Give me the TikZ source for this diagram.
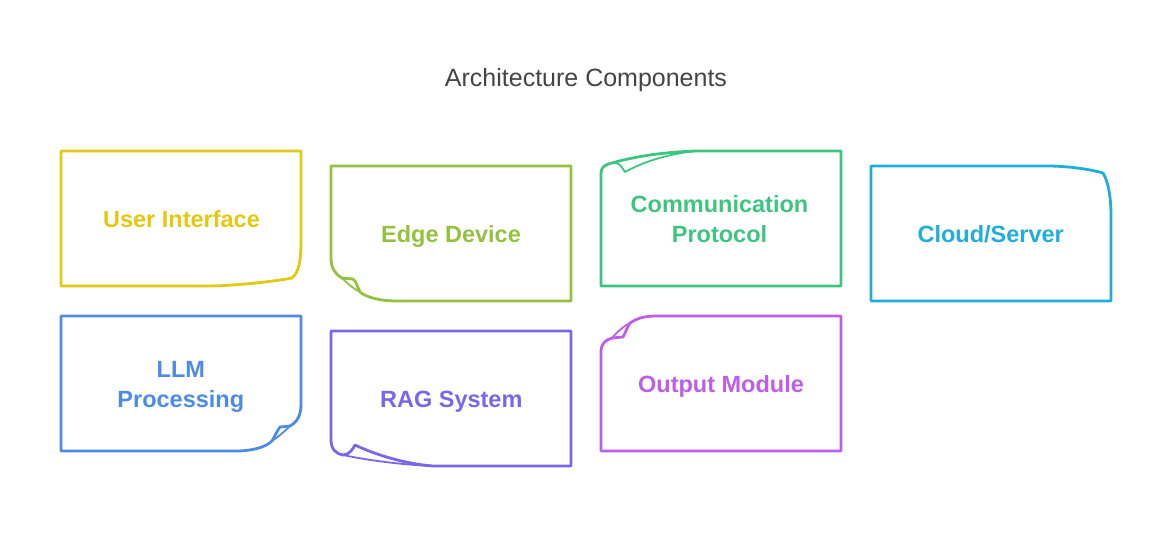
\documentclass[tikz,border=0pt]{standalone}
\usepackage{fontspec}
\setmainfont{Liberation Sans}
\definecolor{cUI}{HTML}{E2C912}
\definecolor{cEdge}{HTML}{94C13E}
\definecolor{cComm}{HTML}{3DC57F}
\definecolor{cCloud}{HTML}{1FADDC}
\definecolor{cLLM}{HTML}{4E8BE6}
\definecolor{cRAG}{HTML}{7B65E8}
\definecolor{cOut}{HTML}{BE5EE8}
\definecolor{cTitle}{HTML}{444444}
\tikzset{
  card/.style={line width=2.8pt, line join=round, line cap=round},
  crease/.style={line width=1.8pt, line join=round, line cap=round},
  lbl/.style={font=\bfseries\fontsize{23.5}{29.5}\selectfont, align=center, inner sep=0pt},
}
\begin{document}
\begin{tikzpicture}[x=1pt,y=-1pt]
\useasboundingbox (0,0) rectangle (1173,558);
\node[font=\fontsize{25}{29}\selectfont, text=cTitle, anchor=base, inner sep=0pt] (title) at (586,86) {Architecture Components};

% User Interface: bottom-right curl
\begin{scope}[shift={(61,151)}]
\draw[card, cUI] (0,0) -- (240,0) -- (240,89) .. controls (240,110) and (238,121) .. (231,127)
  .. controls (210,131) and (170,135) .. (146,135) -- (0,135) -- cycle;
\end{scope}
\node[lbl, text=cUI, anchor=base] (ui) at (181.5,227) {User Interface};

% Edge Device: bottom-left curl with fold
\begin{scope}[shift={(331,166)}, cEdge]
\draw[card] (0,0) -- (240,0) -- (240,135) -- (66,135) .. controls (48,135) and (35,131) .. (29,126)
  .. controls (26,120) and (25,115) .. (22,113) -- (11,112) .. controls (4,108) and (0,102) .. (0,92) -- cycle;
\draw[crease] (11,112) .. controls (17,118) and (23,123) .. (29,126);
\end{scope}
\node[lbl, text=cEdge, anchor=base] (edge) at (451,242) {Edge Device};

% Communication Protocol: top-left curl with fold
\begin{scope}[shift={(601,151)}, cComm]
\draw[card] (240,0) -- (240,135) -- (0,135) -- (0,22) .. controls (0,16) and (5,13) .. (11,12)
  .. controls (35,5) and (65,1) .. (95,0) -- cycle;
\draw[crease] (11,12) .. controls (16,11) and (20,14) .. (22,18) -- (24,21)
  .. controls (40,12) and (65,3) .. (95,0);
\end{scope}
\node[lbl, text=cComm] (comm) at (719.5,219) {Communication\\Protocol};

% Cloud/Server: top-right curl
\begin{scope}[shift={(871,166)}]
\draw[card, cCloud] (0,0) -- (176,0) .. controls (200,0) and (222,4) .. (232,7)
  .. controls (237,15) and (240,30) .. (240,50) -- (240,135) -- (0,135) -- cycle;
\end{scope}
\node[lbl, text=cCloud, anchor=base] (cloud) at (990.7,242) {Cloud/Server};

% LLM Processing: bottom-right curl with fold
\begin{scope}[shift={(61,316)}, cLLM]
\draw[card] (0,0) -- (240,0) -- (240,88) .. controls (240,100) and (236,106) .. (229,110)
  -- (219,111) .. controls (216,115) and (214,120) .. (211,125)
  .. controls (205,131) and (192,135) .. (174,135) -- (0,135) -- cycle;
\draw[crease] (229,110) .. controls (223,116) and (217,121) .. (211,125);
\end{scope}
\node[lbl, text=cLLM] (llm) at (180.8,387) {LLM\\Processing};

% RAG System: bottom-left curl with long fold
\begin{scope}[shift={(331,331)}, cRAG]
\draw[card] (0,0) -- (240,0) -- (240,135) -- (102,135) .. controls (75,133) and (45,124) .. (24,114)
  .. controls (22,118) and (18,124) .. (12,124) .. controls (5,123) and (0,118) .. (0,109) -- cycle;
\draw[crease] (12,124) .. controls (40,130) and (75,134) .. (102,135);
\end{scope}
\node[lbl, text=cRAG, anchor=base] (rag) at (451.3,407) {RAG System};

% Output Module: top-left curl with fold
\begin{scope}[shift={(601,316)}, cOut]
\draw[card] (240,0) -- (240,135) -- (0,135) -- (0,36) .. controls (0,28) and (4,24) .. (11,22)
  -- (22,21) .. controls (25,16) and (26,11) .. (29,7) .. controls (35,3) and (42,0) .. (55,0) -- cycle;
\draw[crease] (11,22) .. controls (17,15) and (23,10) .. (29,7);
\end{scope}
\node[lbl, text=cOut, anchor=base] (out) at (721,392) {Output Module};
\end{tikzpicture}
\end{document}
